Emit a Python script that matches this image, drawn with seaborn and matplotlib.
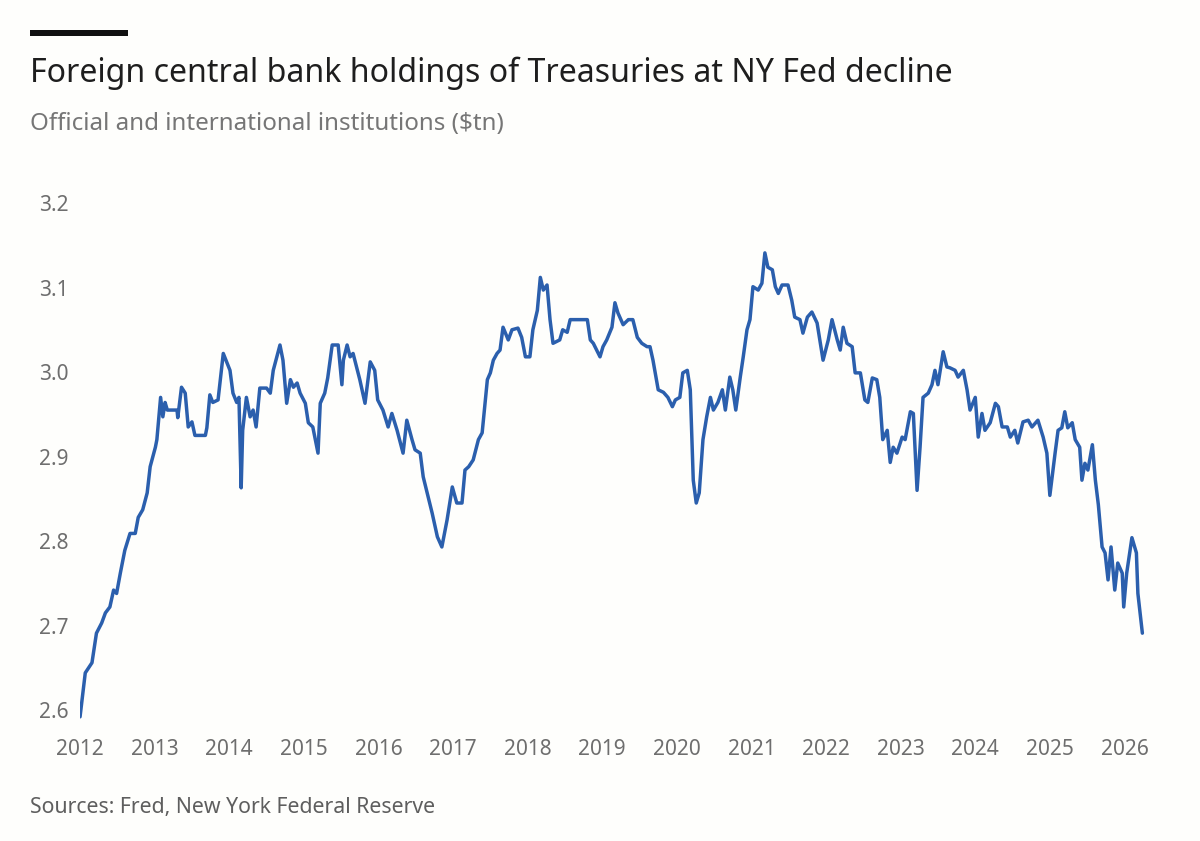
import matplotlib
matplotlib.use("Agg")
import matplotlib.pyplot as plt
from matplotlib.patches import Rectangle
import seaborn as sns
import pandas as pd

# ---- data (decimal year, $tn) ----
years = [
    2012.00, 2012.07, 2012.16, 2012.22, 2012.29, 2012.34, 2012.40, 2012.45, 2012.49, 2012.54,
    2012.60, 2012.67, 2012.74, 2012.78, 2012.84, 2012.90, 2012.94, 2013.01, 2013.03, 2013.08,
    2013.11, 2013.14, 2013.17, 2013.30, 2013.31, 2013.36, 2013.41, 2013.45, 2013.50, 2013.54,
    2013.68, 2013.70, 2013.74, 2013.78, 2013.85, 2013.92, 2013.97, 2014.01, 2014.05, 2014.10,
    2014.13, 2014.16, 2014.18, 2014.23, 2014.28, 2014.32, 2014.36, 2014.41, 2014.50, 2014.55,
    2014.59, 2014.68, 2014.72, 2014.77, 2014.82, 2014.86, 2014.91, 2014.95, 2015.02, 2015.06,
    2015.12, 2015.19, 2015.22, 2015.28, 2015.32, 2015.38, 2015.46, 2015.51, 2015.53, 2015.58,
    2015.62, 2015.66, 2015.71, 2015.75, 2015.82, 2015.89, 2015.95, 2015.99, 2016.06, 2016.13,
    2016.18, 2016.25, 2016.33, 2016.38, 2016.45, 2016.49, 2016.56, 2016.60, 2016.72, 2016.79,
    2016.85, 2016.92, 2016.99, 2017.05, 2017.12, 2017.16, 2017.21, 2017.27, 2017.34, 2017.39,
    2017.46, 2017.50, 2017.54, 2017.59, 2017.63, 2017.67, 2017.74, 2017.79, 2017.87, 2017.92,
    2017.97, 2018.03, 2018.07, 2018.13, 2018.17, 2018.21, 2018.26, 2018.30, 2018.34, 2018.43,
    2018.47, 2018.53, 2018.57, 2018.80, 2018.84, 2018.88, 2018.97, 2019.01, 2019.06, 2019.13,
    2019.17, 2019.21, 2019.28, 2019.35, 2019.41, 2019.47, 2019.53, 2019.60, 2019.64, 2019.68,
    2019.75, 2019.82, 2019.88, 2019.94, 2019.98, 2020.04, 2020.08, 2020.14, 2020.18, 2020.22,
    2020.26, 2020.30, 2020.35, 2020.40, 2020.45, 2020.49, 2020.55, 2020.61, 2020.65, 2020.71,
    2020.75, 2020.79, 2020.85, 2020.89, 2020.94, 2020.98, 2021.02, 2021.09, 2021.14, 2021.18,
    2021.22, 2021.28, 2021.32, 2021.36, 2021.41, 2021.49, 2021.54, 2021.58, 2021.65, 2021.69,
    2021.75, 2021.81, 2021.88, 2021.96, 2022.03, 2022.08, 2022.15, 2022.19, 2022.23, 2022.28,
    2022.35, 2022.39, 2022.46, 2022.52, 2022.56, 2022.62, 2022.68, 2022.72, 2022.76, 2022.82,
    2022.86, 2022.90, 2022.95, 2023.02, 2023.06, 2023.13, 2023.17, 2023.22, 2023.26, 2023.30,
    2023.37, 2023.42, 2023.46, 2023.50, 2023.57, 2023.62, 2023.66, 2023.73, 2023.77, 2023.84,
    2023.89, 2023.93, 2024.00, 2024.04, 2024.09, 2024.13, 2024.20, 2024.27, 2024.31, 2024.36,
    2024.43, 2024.47, 2024.53, 2024.57, 2024.64, 2024.71, 2024.76, 2024.84, 2024.91, 2024.96,
    2025.00, 2025.07, 2025.11, 2025.16, 2025.20, 2025.24, 2025.30, 2025.34, 2025.40, 2025.43,
    2025.47, 2025.51, 2025.57, 2025.61, 2025.65, 2025.70, 2025.74, 2025.78, 2025.82, 2025.87,
    2025.91, 2025.97, 2025.99, 2026.03, 2026.10, 2026.16, 2026.18, 2026.24,
]
holdings = [
    2.592, 2.644, 2.656, 2.691, 2.703, 2.715, 2.722, 2.742, 2.738, 2.762,
    2.789, 2.809, 2.809, 2.828, 2.837, 2.857, 2.888, 2.911, 2.920, 2.970,
    2.947, 2.964, 2.955, 2.955, 2.946, 2.982, 2.975, 2.935, 2.941, 2.925,
    2.925, 2.934, 2.973, 2.964, 2.967, 3.022, 3.011, 3.002, 2.975, 2.964,
    2.970, 2.863, 2.931, 2.970, 2.947, 2.955, 2.935, 2.981, 2.981, 2.975,
    3.002, 3.032, 3.014, 2.963, 2.991, 2.982, 2.987, 2.975, 2.963, 2.940,
    2.935, 2.904, 2.963, 2.975, 2.993, 3.032, 3.032, 2.985, 3.014, 3.032,
    3.018, 3.022, 3.005, 2.991, 2.963, 3.012, 3.002, 2.967, 2.955, 2.935,
    2.951, 2.931, 2.904, 2.943, 2.920, 2.908, 2.904, 2.876, 2.833, 2.805,
    2.793, 2.825, 2.864, 2.845, 2.845, 2.884, 2.888, 2.896, 2.920, 2.928,
    2.991, 2.999, 3.014, 3.022, 3.026, 3.053, 3.038, 3.050, 3.052, 3.041,
    3.018, 3.018, 3.050, 3.073, 3.112, 3.097, 3.103, 3.062, 3.034, 3.038,
    3.050, 3.047, 3.062, 3.062, 3.038, 3.034, 3.018, 3.030, 3.038, 3.053,
    3.082, 3.070, 3.056, 3.062, 3.062, 3.041, 3.034, 3.030, 3.030, 3.014,
    2.979, 2.976, 2.970, 2.959, 2.967, 2.970, 2.999, 3.002, 2.979, 2.872,
    2.845, 2.857, 2.920, 2.947, 2.970, 2.955, 2.964, 2.979, 2.955, 2.994,
    2.979, 2.955, 2.994, 3.018, 3.050, 3.062, 3.101, 3.097, 3.105, 3.141,
    3.124, 3.121, 3.101, 3.093, 3.103, 3.103, 3.085, 3.065, 3.062, 3.046,
    3.065, 3.071, 3.058, 3.014, 3.038, 3.062, 3.038, 3.026, 3.053, 3.034,
    3.030, 2.999, 2.999, 2.967, 2.964, 2.993, 2.991, 2.970, 2.920, 2.931,
    2.893, 2.911, 2.904, 2.923, 2.920, 2.953, 2.951, 2.860, 2.911, 2.970,
    2.975, 2.985, 3.002, 2.985, 3.024, 3.006, 3.005, 3.002, 2.994, 3.002,
    2.979, 2.955, 2.970, 2.923, 2.951, 2.931, 2.940, 2.963, 2.959, 2.935,
    2.935, 2.923, 2.931, 2.916, 2.941, 2.943, 2.935, 2.943, 2.923, 2.904,
    2.854, 2.904, 2.931, 2.934, 2.953, 2.934, 2.940, 2.920, 2.911, 2.872,
    2.892, 2.884, 2.914, 2.872, 2.843, 2.793, 2.786, 2.754, 2.793, 2.742,
    2.774, 2.762, 2.722, 2.762, 2.804, 2.786, 2.738, 2.691,
]
year_ticks = list(range(2012, 2027))
value_ticks = [2.6, 2.7, 2.8, 2.9, 3.0, 3.1, 3.2]

title = "Foreign central bank holdings of Treasuries at NY Fed decline"
subtitle = "Official and international institutions ($tn)"
source = "Sources: Fred, New York Federal Reserve"

# ---- styling ----
sns.set_theme(style="white")
plt.rcParams["font.family"] = ["Noto Sans", "DejaVu Sans"]
BG = "#fefefc"
LINE = "#2b5fad"
TICK = "#6e6e6e"

fig = plt.figure(figsize=(12, 8.41), dpi=100, facecolor=BG)
ax = fig.add_axes([0.0667, 0.1356, 0.889, 0.623], facecolor=BG)

df = pd.DataFrame({"year": years, "value": holdings})
sns.lineplot(data=df, x="year", y="value", ax=ax, color=LINE, linewidth=2.5,
             estimator=None, sort=False)

ax.set_xlim(2012.0, 2026.3)
ax.set_ylim(2.58, 3.2)
ax.set_xticks(year_ticks)
ax.set_xticklabels([str(y) for y in year_ticks])
ax.set_yticks(value_ticks)
ax.set_yticklabels([f"{v:.1f}" for v in value_ticks])
ax.tick_params(axis="both", length=0, labelsize=15, labelcolor=TICK)
ax.tick_params(axis="y", pad=8)
ax.tick_params(axis="x", pad=9)
for s in ax.spines.values():
    s.set_visible(False)
ax.grid(False)
ax.set_xlabel("")
ax.set_ylabel("")

# header / footer
fig.add_artist(Rectangle((30 / 1200, 1 - 36 / 841), 98 / 1200, 6 / 841,
                         transform=fig.transFigure, color="#111111", lw=0))
fig.text(30 / 1200, 1 - 73 / 841, title, fontsize=23.1, color="#1e1e1e",
         ha="left", va="center")
fig.text(30 / 1200, 1 - 124 / 841, subtitle, fontsize=17.4, color="#767676",
         ha="left", va="center")
fig.text(30 / 1200, 1 - 808 / 841, source, fontsize=15.3, color="#5e5e5e",
         ha="left", va="center")

fig.savefig("out.png", dpi=100, facecolor=BG)
